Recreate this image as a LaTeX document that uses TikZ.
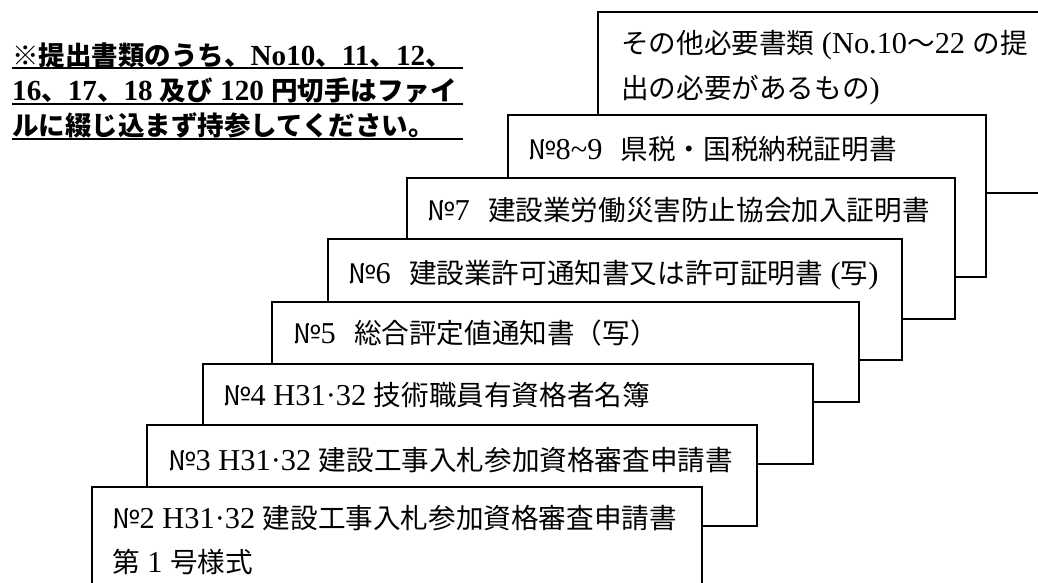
\documentclass[tikz,border=0pt]{standalone}
\usepackage{fontspec}
\setmainfont{Liberation Serif}[Scale=1.1]
\newfontfamily\jp{Noto Sans CJK JP}
\newcommand\J[1]{{\jp #1}}
\newcommand\gapw{\hspace{0.6em}}
\tikzset{
  page/.style={draw=black, line width=1.6pt, fill=white},
  lbl/.style={anchor=base west, inner sep=0pt, font=\fontsize{27.6}{34}\selectfont},
  hdr/.style={anchor=base west, inner sep=0pt, font=\fontsize{26.5}{32}\selectfont\bfseries},
  uline/.style={line width=2pt}
}
\begin{document}
\begin{tikzpicture}[x=1pt,y=-1pt]
\useasboundingbox (0,0) rectangle (1038,583);
\fill[white] (0,0) rectangle (1038,583);
\begin{scope}
\clip (0,0) rectangle (1038,583);
% stacked pages, back to front
\path[page] (598,12) rectangle (1060,193);
\path[page] (508,115) rectangle (986,277);
\path[page] (407,178) rectangle (955,319);
\path[page] (328,239) rectangle (902,360);
\path[page] (272,302) rectangle (859,402);
\path[page] (203,364) rectangle (813,464);
\path[page] (147,425) rectangle (757,526);
\path[page] (92,487) rectangle (702,620);
\end{scope}
% page labels
\node[lbl] (t10a) at (621,53.5) {\J{その他必要書類} (No.10\J{〜}22 \J{の提}};
\node[lbl] (t10b) at (621,98.5) {\J{出の必要があるもの})};
\node[lbl] (t89) at (528,159.5) {\J{№}8\textasciitilde 9\gapw\J{県税・国税納税証明書}};
\node[lbl] (t7) at (427,220.5) {\J{№}7\gapw\J{建設業労働災害防止協会加入証明書}};
\node[lbl] (t6) at (348,283.5) {\J{№}6\gapw\J{建設業許可通知書又は許可証明書} (\J{写})};
\node[lbl] (t5) at (293,343.5) {\J{№}5\gapw\J{総合評定値通知書（写）}};
\node[lbl] (t4) at (223,405.5) {\J{№}4 H31·32 \J{技術職員有資格者名簿}};
\node[lbl] (t3) at (168,470.5) {\J{№}3 H31·32 \J{建設工事入札参加資格審査申請書}};
\node[lbl] (t2a) at (112,528.5) {\J{№}2 H31·32 \J{建設工事入札参加資格審査申請書}};
\node[lbl] (t2b) at (112,572.5) {\J{第} 1 \J{号様式}};
% header note
\node[hdr] (h1) at (12,65.3) {\J{※提出書類のうち、}No10\J{、}11\J{、}12\J{、}};
\node[hdr] (h2) at (12,100.3) {16\J{、}17\J{、}18 \J{及び} 120 \J{円切手はファイ}};
\node[hdr] (h3) at (12,135.3) {\J{ルに綴じ込まず持参してください。}};
\coordinate (u1a) at (12,68);  \coordinate (u1b) at (463,68);
\coordinate (u2a) at (12,104); \coordinate (u2b) at (463,104);
\coordinate (u3a) at (12,139); \coordinate (u3b) at (463,139);
\draw[uline] (u1a) -- (u1b);
\draw[uline] (u2a) -- (u2b);
\draw[uline] (u3a) -- (u3b);
\end{tikzpicture}
\end{document}
